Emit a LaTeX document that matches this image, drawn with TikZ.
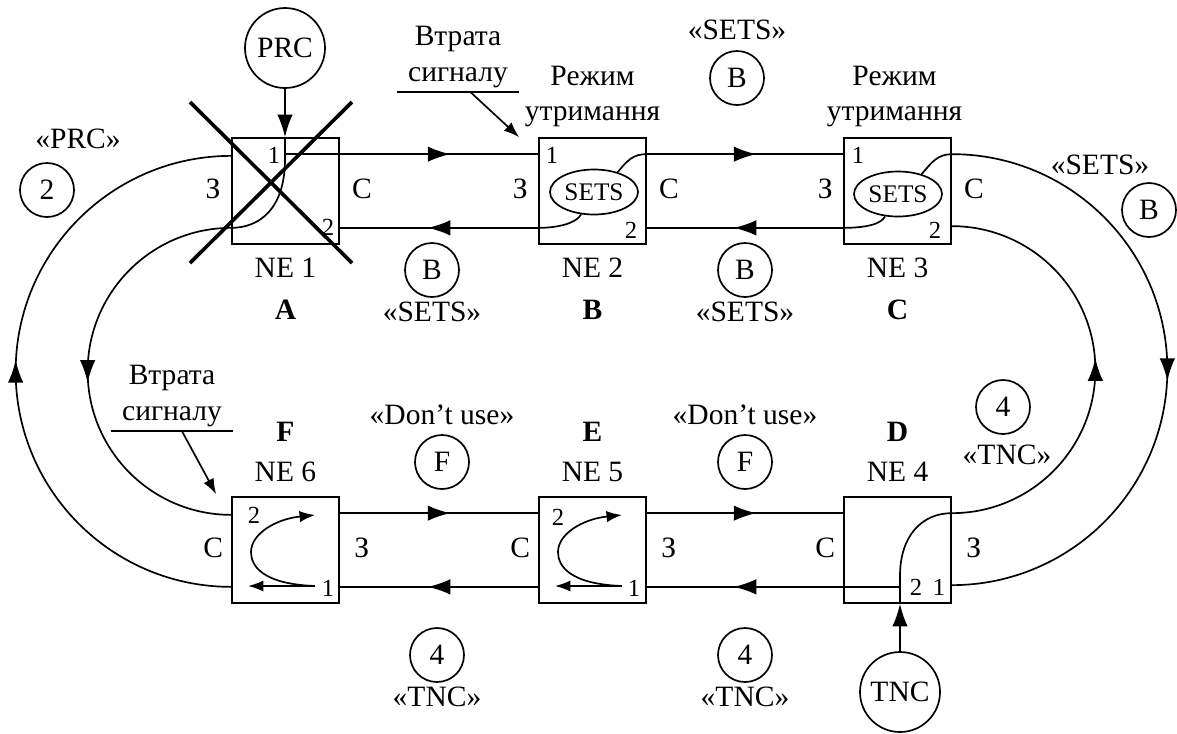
\documentclass[tikz,border=0pt]{standalone}
\usepackage{fontspec}
\setmainfont{Liberation Serif}
\usetikzlibrary{arrows.meta, shapes.geometric, calc, decorations.markings}

\begin{document}
\begin{tikzpicture}[x=0.025cm, y=0.025cm,
  every node/.style={font=\fontsize{21}{25}\selectfont},
  nebox/.style={draw, line width=1.2pt, minimum width=2.675cm, minimum height=2.65cm, inner sep=0},
  setsnode/.style={ellipse, draw, line width=1.2pt, minimum width=2.2cm, minimum height=1.125cm,
    inner sep=0, font=\fontsize{18}{20}\selectfont},
  srcnode/.style={circle, draw, line width=1.2pt, minimum size=2cm, inner sep=0},
  tag/.style={circle, draw, line width=1.2pt, minimum size=1.35cm, inner sep=0},
  port/.style={font=\fontsize{17.5}{20}\selectfont, inner sep=0},
  site/.style={font=\fontsize{21}{25}\selectfont\bfseries},
  sig/.style={line width=1.2pt},
  cross/.style={line width=2.6pt},
  bigtip/.tip={Latex[length=16pt, width=11pt]},
  smalltip/.tip={Latex[length=11pt, width=8pt]},
  midarrow/.style={postaction={decorate}, decoration={markings,
    mark=at position 0.5 with {\arrow[xshift=8pt]{bigtip}}}}]
  \useasboundingbox (0,0) rectangle (1177,-733);

  % Network elements
  \node[nebox] (ne1) at (285.5,-191) {};
  \node[nebox] (ne2) at (592.5,-191) {};
  \node[nebox] (ne3) at (897.5,-191) {};
  \node[nebox] (ne4) at (897.5,-550) {};
  \node[nebox] (ne5) at (592.5,-550) {};
  \node[nebox] (ne6) at (285.5,-550) {};
  \foreach \n in {ne1,ne2,ne3,ne4,ne5,ne6} {
    \coordinate (\n-tl) at ($(\n.north west)+(0,-17)$);
    \coordinate (\n-tr) at ($(\n.north east)+(0,-17)$);
    \coordinate (\n-bl) at ($(\n.south west)+(0,17)$);
    \coordinate (\n-br) at ($(\n.south east)+(0,17)$);
  }

  % Ring links
  \draw[sig, midarrow] (ne1-tr) -- (ne2-tl);
  \draw[sig, midarrow] (ne2-tr) -- (ne3-tl);
  \draw[sig, midarrow] (ne2-bl) -- (ne1-br);
  \draw[sig, midarrow] (ne3-bl) -- (ne2-br);
  \draw[sig, midarrow] (ne6-tr) -- (ne5-tl);
  \draw[sig, midarrow] (ne5-tr) -- (ne4-tl);
  \draw[sig, midarrow] (ne4-bl) -- (ne5-br);
  \draw[sig, midarrow] (ne5-bl) -- (ne6-br);
  \draw[sig, midarrow] (ne6-bl) arc[start angle=270, end angle=90, radius=215.5];
  \draw[sig, midarrow] (ne1-bl) arc[start angle=90, end angle=270, radius=143.5];
  \draw[sig, midarrow] (ne3-tr) arc[start angle=90, end angle=-90, radius=215.5];
  \draw[sig, midarrow] (ne4-tr) arc[start angle=-90, end angle=90, radius=143.5];

  % NE 1 with PRC
  \node[srcnode] (prc) at (285,-48) {PRC};
  \draw[sig, -bigtip] (prc) -- (prc |- ne1.north);
  \draw[sig] (prc |- ne1.north) -- ++(0,-22) .. controls +(0,-50) and +(28,0) .. (ne1-bl);
  \draw[sig] (prc |- ne1-tr) -- (ne1-tr);
  \draw[cross] (190,-102) -- (352,-263);
  \draw[cross] (352,-102) -- (190,-263);

  % NE 4 with TNC
  \node[srcnode] (tnc) at (900,-692) {TNC};
  \draw[sig, -bigtip] (tnc) -- (tnc |- ne4.south);
  \draw[sig] (tnc |- ne4.south) -- ++(0,28) .. controls +(0,40) and +(-30,0) .. (ne4-tr);
  \draw[sig] (tnc |- ne4-bl) -- (ne4-bl);

  % Holdover (SETS)
  \node[setsnode] (sets2) at (594,-192) {SETS};
  \node[setsnode] (sets3) at (898,-194) {SETS};
  \foreach \n/\s in {ne2/sets2, ne3/sets3} {
    \draw[sig] (\s.40) .. controls +(10,12) and +(-14,0) .. (\n-tr);
    \draw[sig] (\s.240) .. controls +(-4,-8) and +(22,0) .. (\n-bl);
  }

  % Loop back in NE 5, NE 6
  \foreach \n in {ne5,ne6} {
    \begin{scope}[shift={(\n.center)}]
      \draw[sig, -smalltip] (29.5,-36) -- (-37.5,-36);
      \draw[sig, -smalltip] (29.5,-36) .. controls (-23,-34) and (-34.5,-16) .. (-34.5,-2)
        .. controls (-34.5,16) and (-10,31) .. (29.5,35);
    \end{scope}
  }

  % Port numbers
  \foreach \n/\a/\b/\c/\d in {ne1/274/-155/328/-227, ne2/552/-155/631/-230, ne3/858/-155/935/-230} {
    \node[port] (\n-p1) at (\a,\b) {1};
    \node[port] (\n-p2) at (\c,\d) {2};
  }
  \foreach \n/\a/\b/\c/\d in {ne4/939/-587/916/-587, ne5/634/-588/558/-517, ne6/328/-588/254/-515} {
    \node[port] (\n-p1) at (\a,\b) {1};
    \node[port] (\n-p2) at (\c,\d) {2};
  }

  % Sides
  \foreach \n/\l/\r in {ne1/З/С, ne2/З/С, ne3/З/С, ne4/С/З, ne5/С/З, ne6/С/З} {
    \node (\n-w) at ($(\n.west)+(-18,2)$) {\l};
    \node (\n-e) at ($(\n.east)+(22,2)$) {\r};
  }

  % Names
  \foreach \n/\t/\s in {ne1/1/A, ne2/2/B, ne3/3/C} {
    \node (\n-name) at ($(\n.south)+(0,-23)$) {NE \t};
    \node[site] (\n-site) at ($(\n.south)+(0,-65)$) {\s};
  }
  \foreach \n/\t/\s in {ne4/4/D, ne5/5/E, ne6/6/F} {
    \node (\n-name) at ($(\n.north)+(0,24)$) {NE \t};
    \node[site] (\n-site) at ($(\n.north)+(0,64)$) {\s};
  }
  \node[align=center] (hold2) at ($(ne2.north)+(0,41)$) {Режим\\утримання};
  \node[align=center] (hold3) at ($(ne3.north)+(-3,41)$) {Режим\\утримання};

  % Loss of signal
  \node[align=center, inner xsep=8pt, inner ysep=3pt] (loss1) at (458,-57) {Втрата\\сигналу};
  \draw[sig] (loss1.south west) -- (loss1.south east);
  \coordinate (loss1-to) at ($(ne2.north west)+(-19,0)$);
  \draw[sig, -smalltip] ($(loss1.south west)!0.6!(loss1.south east)$) -- (loss1-to);
  \node[align=center, inner xsep=8pt, inner ysep=3pt] (loss6) at (172,-396) {Втрата\\сигналу};
  \draw[sig] (loss6.south west) -- (loss6.south east);
  \coordinate (loss6-to) at ($(ne6.north west)+(-15,2)$);
  \draw[sig, -smalltip] ($(loss6.south west)!0.58!(loss6.south east)$) -- (loss6-to);

  % Quality levels
  \node[tag] (t1) at (47,-190) {2};        \node (q1) at (78,-139) {«PRC»};
  \node[tag] (t2) at (737,-78) {B};        \node (q2) at (737,-30) {«SETS»};
  \node[tag] (t3) at (1149,-210) {B};      \node (q3) at (1100,-165) {«SETS»};
  \node[tag] (t4) at (432,-270) {B};       \node (q4) at (432,-312) {«SETS»};
  \node[tag] (t5) at (745,-270) {B};       \node (q5) at (745,-312) {«SETS»};
  \node[tag] (t6) at (442,-462) {F};       \node (q6) at (442,-415) {«Don’t use»};
  \node[tag] (t7) at (745,-462) {F};       \node (q7) at (745,-415) {«Don’t use»};
  \node[tag] (t8) at (1003,-407) {4};      \node (q8) at (1007,-455) {«TNC»};
  \node[tag] (t9) at (437,-655) {4};       \node (q9) at (437,-697) {«TNC»};
  \node[tag] (t10) at (745,-655) {4};      \node (q10) at (745,-697) {«TNC»};
\end{tikzpicture}
\end{document}
